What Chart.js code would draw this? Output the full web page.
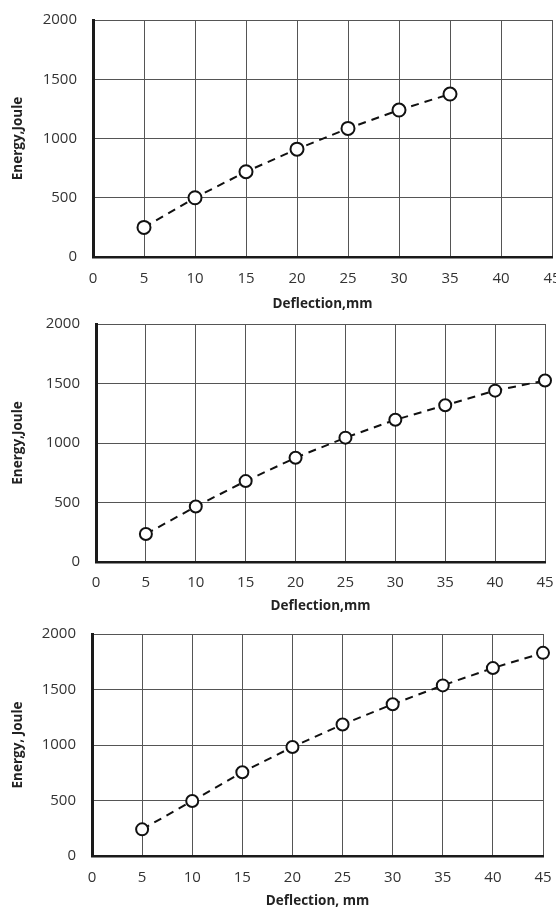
<!DOCTYPE html>
<html>
<head>
<meta charset="utf-8">
<script src="https://cdn.jsdelivr.net/npm/chart.js@4"></script>
<style>
    body {
        margin: 0;
        width: 556px;
        height: 909px;
        overflow: hidden;
        background: white;
        position: relative;
    }

    canvas {
        position: absolute;
        left: 0;
    }
</style>
</head>
<body>
<canvas id="chart1" width="566" height="312" style="top:0px"></canvas>
<canvas id="chart2" width="556" height="309" style="top:305px"></canvas>
<canvas id="chart3" width="556" height="295" style="top:614px"></canvas>

<script>
// values
let deflection1 = [5, 10, 15, 20, 25, 30, 35];
let energy1 = [250, 500, 720, 910, 1085, 1240, 1375];

let deflection2 = [5, 10, 15, 20, 25, 30, 35, 40, 45];
let energy2 = [235, 466, 680, 876, 1045, 1195, 1317, 1440, 1525];

let deflection3 = [5, 10, 15, 20, 25, 30, 35, 40, 45];
let energy3 = [240, 496, 755, 982, 1185, 1367, 1537, 1693, 1830];

let deflectionTicks = [0, 5, 10, 15, 20, 25, 30, 35, 40, 45];
let energyTicks = [0, 500, 1000, 1500, 2000];

let xTitles = ['Deflection,mm', 'Deflection,mm', 'Deflection, mm'];
let yTitles = ['Energy,Joule', 'Energy,Joule', 'Energy, Joule'];


function toPoints(xs, ys) {
    let points = [];
    for (let i = 0; i < xs.length; i++) {
        points.push({ x: xs[i], y: ys[i] });
    }
    return points;
}


function drawPanel(id, xs, ys, index, box) {
    let ctx = document.getElementById(id);
    let tickFont = { family: 'Open Sans', size: 15 };
    let titleFont = { family: 'Open Sans', size: 13.5, weight: 'bold' };

    new Chart(ctx, {
        type: 'line',
        data: {
            datasets: [{
                data: toPoints(xs, ys),
                borderColor: '#111',
                borderWidth: 2,
                borderDash: [8, 6],
                pointRadius: box.radius,
                pointBorderWidth: 2,
                pointBorderColor: '#111',
                pointBackgroundColor: 'white',
                tension: 0,
                clip: false
            }]
        },
        options: {
            responsive: false,
            animation: false,
            events: [],
            layout: {
                padding: { top: box.top, right: box.right, left: 0, bottom: 0 }
            },
            scales: {
                x: {
                    type: 'linear',
                    min: 0,
                    max: 45,
                    afterBuildTicks: (scale) => {
                        scale.ticks = deflectionTicks.map(v => ({ value: v }));
                    },
                    afterFit: (scale) => {
                        // fixed plot box, labels may hang over the edges
                        scale.height = box.axisHeight;
                        scale.paddingLeft = 0;
                        scale.paddingRight = 0;
                    },
                    ticks: {
                        color: '#333',
                        font: tickFont,
                        padding: box.tickPad,
                        maxRotation: 0,
                        callback: (value) => String(value)
                    },
                    grid: {
                        color: '#555',
                        lineWidth: 1,
                        drawTicks: false
                    },
                    border: {
                        color: '#1a1a1a',
                        width: 2.5
                    },
                    title: {
                        display: true,
                        text: xTitles[index],
                        color: '#222',
                        font: titleFont,
                        padding: { top: 0, bottom: 0 }
                    }
                },
                y: {
                    min: 0,
                    max: 2000,
                    afterBuildTicks: (scale) => {
                        scale.ticks = energyTicks.map(v => ({ value: v }));
                    },
                    afterFit: (scale) => {
                        scale.width = box.left;
                        scale.paddingTop = 0;
                        scale.paddingBottom = 0;
                    },
                    ticks: {
                        color: '#333',
                        font: tickFont,
                        padding: 16,
                        callback: (value) => String(value)
                    },
                    grid: {
                        color: '#555',
                        lineWidth: 1,
                        drawTicks: false
                    },
                    border: {
                        color: '#1a1a1a',
                        width: 3
                    },
                    title: {
                        display: true,
                        text: yTitles[index],
                        color: '#222',
                        font: titleFont,
                        padding: { top: 10, bottom: 0 }
                    }
                }
            },
            plugins: {
                legend: { display: false },
                tooltip: { enabled: false }
            }
        }
    });
}


drawPanel('chart1', deflection1, energy1, 0, { top: 20, right: 14, left: 93, axisHeight: 55, tickPad: 13, radius: 6.5 });
drawPanel('chart2', deflection2, energy2, 1, { top: 19, right: 11, left: 96, axisHeight: 52, tickPad: 12, radius: 6 });
drawPanel('chart3', deflection3, energy3, 2, { top: 20, right: 13, left: 92, axisHeight: 53, tickPad: 13, radius: 6 });
</script>
</body>
</html>
